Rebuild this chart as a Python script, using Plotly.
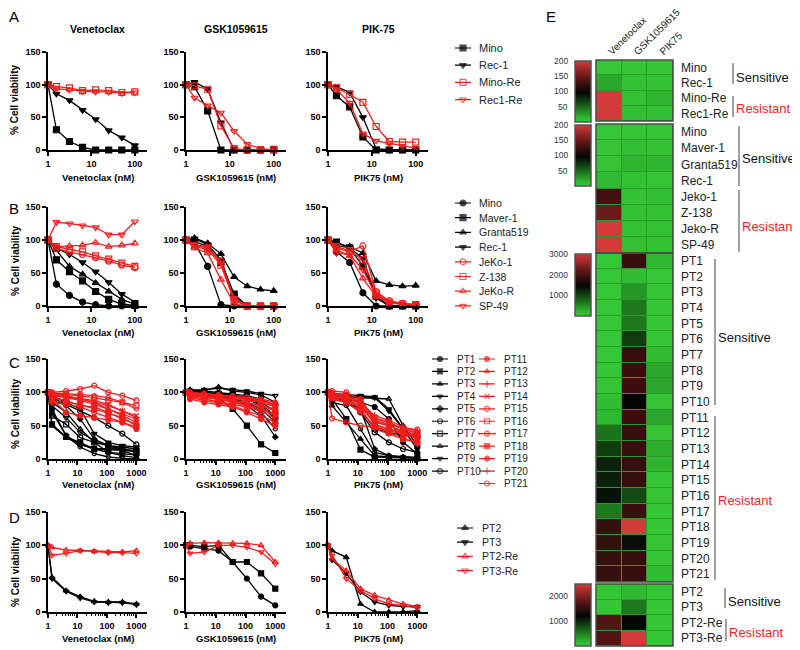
import plotly.graph_objects as go

W, H = 800, 650
OFF = 8  # page body margin in the browser
FONT = "Liberation Sans"
RED = "#f21d1d"
BLK = "#000000"

# ---------------- data ----------------
CONC_AB = [1, 1.5625, 3.125, 6.25, 12.5, 25, 50, 100]
CONC_CD = [1, 1.37, 4.12, 12.35, 37.04, 111.1, 333.3, 1000]
TICKS_AB = [1, 10, 100]
TICKS_CD = [1, 10, 100, 1000]
Y_TICKS = [0, 50, 100, 150]

DRUG_TITLES = ["Venetoclax", "GSK1059615", "PIK-75"]
X_TITLES = ["Venetoclax (nM)", "GSK1059615 (nM)", "PIK75 (nM)"]

A_NAMES = ["Mino", "Rec-1", "Mino-Re", "Rec1-Re"]
A_VEN = {"Mino": [100, 31, 13, 4, 0, 0, 0, 0],
         "Rec-1": [100, 86, 76, 61, 47, 30, 19, 7],
         "Mino-Re": [100, 97, 95, 91, 92, 91, 88, 89],
         "Rec1-Re": [100, 94, 92, 90, 89, 89, 87, 88]}
A_GSK = {"Mino": [100, 97, 60, 0, 0, 0, 0, 0],
         "Rec-1": [100, 104, 93, 42, 0, 0, 0, 0],
         "Mino-Re": [100, 98, 93, 37, 2, 0, 0, 1],
         "Rec1-Re": [100, 80, 68, 57, 29, 9, 2, 0]}
A_PIK = {"Mino": [100, 83, 66, 20, 0, 0, 0, 0],
         "Rec-1": [100, 97, 88, 50, 2, 0, 0, 0],
         "Mino-Re": [100, 95, 85, 73, 36, 13, 12, 12],
         "Rec1-Re": [100, 93, 72, 25, 14, 10, 6, 3]}

B_NAMES = ["Mino", "Maver-1", "Granta519", "Rec-1", "JeKo-1", "Z-138", "JeKo-R", "SP-49"]
B_VEN = {"Mino": [100, 33, 16, 6, 2, 0, 0, 0],
         "Maver-1": [100, 70, 52, 38, 22, 10, 3, 1],
         "Granta519": [100, 85, 60, 48, 35, 22, 10, 3],
         "Rec-1": [100, 88, 78, 66, 52, 36, 18, 6],
         "JeKo-1": [100, 87, 82, 78, 73, 68, 62, 58],
         "Z-138": [100, 90, 86, 82, 76, 71, 65, 60],
         "JeKo-R": [100, 90, 91, 92, 96, 90, 92, 95],
         "SP-49": [100, 127, 125, 122, 119, 108, 108, 128]}
B_GSK = {"Mino": [100, 96, 60, 2, 0, 0, 0, 0],
         "Maver-1": [100, 98, 90, 66, 18, 0, 0, 0],
         "Granta519": [100, 103, 95, 79, 44, 30, 25, 23],
         "Rec-1": [100, 102, 93, 70, 15, 0, 0, 0],
         "JeKo-1": [100, 92, 88, 68, 10, 0, 0, 0],
         "Z-138": [100, 90, 86, 62, 8, 0, 0, 0],
         "JeKo-R": [100, 88, 80, 40, 3, 0, 0, 0],
         "SP-49": [100, 93, 90, 65, 12, 0, 0, 0]}
B_PIK = {"Mino": [100, 82, 66, 20, 0, 0, 0, 0],
         "Maver-1": [100, 97, 88, 60, 15, 0, 0, 0],
         "Granta519": [100, 95, 90, 80, 38, 32, 30, 31],
         "Rec-1": [100, 92, 88, 72, 12, 0, 0, 0],
         "JeKo-1": [100, 88, 82, 91, 22, 8, 4, 2],
         "Z-138": [100, 90, 84, 70, 20, 6, 3, 2],
         "JeKo-R": [100, 85, 76, 42, 14, 5, 2, 1],
         "SP-49": [100, 80, 78, 55, 16, 6, 3, 2]}

C_NAMES = ["PT%d" % i for i in range(1, 22)]
C_VEN = {"PT1": [100, 75, 35, 22, 15, 10, 8, 6],
         "PT2": [100, 52, 33, 25, 15, 14, 13, 12],
         "PT3": [100, 50, 32, 22, 16, 15, 15, 12],
         "PT4": [100, 95, 85, 75, 38, 25, 20, 18],
         "PT5": [100, 90, 80, 60, 30, 20, 15, 10],
         "PT6": [100, 92, 82, 72, 62, 50, 38, 22],
         "PT7": [100, 65, 52, 32, 25, 20, 18, 15],
         "PT8": [100, 85, 70, 45, 25, 10, 5, 2],
         "PT9": [100, 80, 62, 40, 28, 20, 12, 5],
         "PT10": [100, 70, 35, 18, 8, 3, 1, 0],
         "PT11": [100, 98, 95, 90, 85, 75, 65, 55],
         "PT12": [100, 95, 92, 88, 82, 75, 68, 60],
         "PT13": [100, 92, 88, 80, 78, 70, 60, 52],
         "PT14": [100, 96, 93, 91, 88, 82, 72, 65],
         "PT15": [100, 100, 102, 105, 110, 100, 95, 88],
         "PT16": [100, 98, 97, 95, 92, 88, 85, 80],
         "PT17": [100, 85, 82, 78, 70, 62, 55, 48],
         "PT18": [100, 88, 85, 82, 75, 68, 62, 50],
         "PT19": [100, 90, 70, 65, 62, 58, 55, 45],
         "PT20": [100, 97, 95, 90, 85, 80, 72, 62],
         "PT21": [100, 99, 98, 97, 95, 92, 85, 75]}
C_GSK = {"PT1": [100, 102, 100, 98, 95, 90, 80, 60],
         "PT2": [100, 98, 95, 92, 75, 50, 22, 9],
         "PT3": [100, 100, 98, 95, 90, 85, 75, 55],
         "PT4": [100, 103, 102, 100, 98, 95, 90, 80],
         "PT5": [100, 98, 96, 95, 90, 80, 65, 33],
         "PT6": [100, 101, 100, 98, 96, 92, 85, 72],
         "PT7": [100, 99, 97, 96, 94, 90, 82, 65],
         "PT8": [100, 104, 103, 108, 102, 100, 96, 85],
         "PT9": [100, 102, 104, 106, 104, 102, 98, 95],
         "PT10": [100, 97, 95, 93, 90, 85, 70, 45],
         "PT11": [100, 95, 92, 90, 85, 80, 75, 65],
         "PT12": [100, 98, 95, 92, 88, 85, 80, 72],
         "PT13": [100, 96, 94, 90, 86, 80, 75, 68],
         "PT14": [100, 97, 95, 93, 90, 88, 85, 78],
         "PT15": [100, 100, 98, 96, 94, 92, 88, 82],
         "PT16": [100, 94, 90, 86, 82, 78, 72, 60],
         "PT17": [100, 92, 88, 84, 80, 72, 65, 55],
         "PT18": [100, 96, 93, 90, 87, 84, 80, 75],
         "PT19": [100, 90, 85, 82, 78, 70, 60, 50],
         "PT20": [100, 98, 97, 95, 93, 90, 86, 80],
         "PT21": [100, 99, 98, 96, 95, 93, 90, 85]}
C_PIK = {"PT1": [100, 92, 90, 85, 78, 60, 25, 8],
         "PT2": [100, 90, 60, 14, 3, 2, 1, 1],
         "PT3": [100, 80, 55, 30, 5, 3, 2, 2],
         "PT4": [100, 98, 97, 95, 93, 75, 45, 15],
         "PT5": [100, 95, 90, 75, 15, 5, 3, 2],
         "PT6": [100, 95, 85, 70, 40, 25, 15, 10],
         "PT7": [100, 90, 85, 75, 45, 40, 35, 35],
         "PT8": [100, 95, 93, 92, 92, 90, 50, 20],
         "PT9": [100, 93, 95, 93, 92, 72, 45, 30],
         "PT10": [100, 85, 80, 45, 10, 5, 3, 2],
         "PT11": [100, 95, 90, 80, 60, 55, 45, 40],
         "PT12": [100, 93, 88, 78, 55, 50, 40, 35],
         "PT13": [100, 96, 92, 85, 65, 58, 48, 42],
         "PT14": [100, 90, 85, 70, 50, 45, 40, 35],
         "PT15": [100, 61, 55, 50, 48, 42, 38, 30],
         "PT16": [100, 98, 95, 88, 62, 55, 45, 38],
         "PT17": [100, 102, 100, 90, 58, 52, 46, 44],
         "PT18": [100, 92, 85, 72, 48, 40, 30, 25],
         "PT19": [100, 97, 93, 82, 52, 45, 38, 33],
         "PT20": [100, 95, 90, 75, 45, 38, 30, 25],
         "PT21": [100, 98, 94, 86, 56, 50, 42, 36]}

D_NAMES = ["PT2", "PT3", "PT2-Re", "PT3-Re"]
D_VEN = {"PT2": [100, 52, 32, 23, 16, 15, 15, 12],
         "PT3": [98, 50, 31, 21, 15, 14, 14, 11],
         "PT2-Re": [100, 97, 93, 92, 91, 90, 90, 92],
         "PT3-Re": [100, 85, 88, 92, 91, 89, 89, 88]}
D_GSK = {"PT2": [100, 98, 95, 92, 75, 50, 23, 10],
         "PT3": [100, 100, 98, 100, 75, 75, 58, 35],
         "PT2-Re": [100, 103, 104, 104, 103, 103, 100, 75],
         "PT3-Re": [100, 88, 90, 100, 100, 97, 90, 72]}
D_PIK = {"PT2": [100, 92, 82, 12, 0, 0, 0, 2],
         "PT3": [100, 78, 58, 30, 15, 10, 8, 8],
         "PT2-Re": [100, 80, 62, 35, 25, 18, 12, 8],
         "PT3-Re": [100, 85, 50, 32, 20, 12, 10, 6]}

# heatmap data (IC50-like values)
HM_DRUGS = ["Venetoclax", "GSK1059615", "PIK75"]
HM1_ROWS = ["Mino", "Rec-1", "Mino-Re", "Rec1-Re"]
HM1_VEN = [2, 22, 210, 205]
HM1_GSK = [4, 6, 7, 8]
HM1_PIK = [3, 5, 16, 8]
HM2_ROWS = ["Mino", "Maver-1", "Granta519", "Rec-1", "Jeko-1", "Z-138", "Jeko-R", "SP-49"]
HM2_VEN = [2, 3, 4, 12, 130, 152, 200, 200]
HM2_GSK = [4, 8, 15, 6, 5, 6, 7, 7]
HM2_PIK = [3, 5, 16, 4, 8, 6, 6, 5]
HM3_ROWS = ["PT%d" % i for i in range(1, 22)]
HM3_VEN = [30, 30, 30, 30, 30, 30, 30, 40, 60, 150, 200, 680, 1050, 1250, 1250, 1370, 650, 1850, 1850, 1850, 1850]
HM3_GSK = [1850, 150, 450, 650, 650, 1050, 1850, 1900, 1900, 1450, 1900, 1850, 1850, 1850, 1850, 950, 1900, 3000, 1380, 1850, 1850]
HM3_PIK = [200, 30, 40, 40, 40, 40, 150, 330, 330, 60, 350, 60, 300, 250, 40, 60, 40, 40, 60, 40, 150]
HM4_ROWS = ["PT2", "PT3", "PT2-Re", "PT3-Re"]
HM4_VEN = [30, 30, 1750, 1750]
HM4_GSK = [150, 550, 1200, 2500]
HM4_PIK = [40, 40, 40, 40]
CB1_LABELS = [200, 150, 100, 50]
CB2_LABELS = [200, 150, 100, 50]
CB3_LABELS = [3000, 2000, 1000]
CB4_LABELS = [2000, 1000]

# ---------------- styles ----------------
A_STYLE = {"Mino": (BLK, "square"), "Rec-1": (BLK, "triangle-down"),
           "Mino-Re": (RED, "square-open"), "Rec1-Re": (RED, "triangle-down-open")}
B_STYLE = {"Mino": (BLK, "circle"), "Maver-1": (BLK, "square"), "Granta519": (BLK, "triangle-up"),
           "Rec-1": (BLK, "triangle-down"), "JeKo-1": (RED, "circle-open"), "Z-138": (RED, "square-open"),
           "JeKo-R": (RED, "triangle-up-open"), "SP-49": (RED, "triangle-down-open")}
C_SYMBOLS = ["circle", "square", "triangle-up", "triangle-down", "diamond", "circle-open", "square-open",
             "triangle-up-open", "triangle-down-open", "circle-open",
             "circle", "triangle-up", "cross-thin-open", "x-thin-open", "circle-open", "square-open",
             "circle-open-dot", "square", "circle", "cross-thin-open", "circle-open"]
C_STYLE = {n: ((BLK if i < 10 else RED), C_SYMBOLS[i]) for i, n in enumerate(C_NAMES)}
D_STYLE = {"PT2": (BLK, "triangle-up"), "PT3": (BLK, "triangle-down"),
           "PT2-Re": (RED, "triangle-up-open"), "PT3-Re": (RED, "triangle-down-open")}
D_STYLE_GSK = {"PT2": (BLK, "circle"), "PT3": (BLK, "square"),
               "PT2-Re": (RED, "triangle-up-open"), "PT3-Re": (RED, "triangle-down-open")}

COL_X = [(48, 147), (186, 286), (328, 428)]
ROW_Y = [(52, 150), (207, 306), (359, 459), (512, 612)]
X_TITLE_Y = [177, 332, 484, 638]
Y_TITLE_Y = [100, 261, 414, 572]
LETTERS = [("A", 14, 17), ("B", 14, 208), ("C", 14, 362), ("D", 14, 517), ("E", 551, 17)]

PANELS = [
    (0, 0, A_NAMES, A_VEN, A_STYLE, CONC_AB), (0, 1, A_NAMES, A_GSK, A_STYLE, CONC_AB), (0, 2, A_NAMES, A_PIK, A_STYLE, CONC_AB),
    (1, 0, B_NAMES, B_VEN, B_STYLE, CONC_AB), (1, 1, B_NAMES, B_GSK, B_STYLE, CONC_AB), (1, 2, B_NAMES, B_PIK, B_STYLE, CONC_AB),
    (2, 0, C_NAMES, C_VEN, C_STYLE, CONC_CD), (2, 1, C_NAMES, C_GSK, C_STYLE, CONC_CD), (2, 2, C_NAMES, C_PIK, C_STYLE, CONC_CD),
    (3, 0, D_NAMES, D_VEN, D_STYLE, CONC_CD), (3, 1, D_NAMES, D_GSK, D_STYLE_GSK, CONC_CD), (3, 2, D_NAMES, D_PIK, D_STYLE, CONC_CD),
]


def fx(px):
    return (px - OFF) / W


def fy(py):
    return 1 - (py - OFF) / H


def key(prefix, k):
    return prefix if k == 1 else "%s%d" % (prefix, k)


fig = go.Figure()
layout = dict(template="none", width=W, height=H,
              margin=dict(l=0, r=0, t=0, b=0, pad=0, autoexpand=False),
              paper_bgcolor="white", plot_bgcolor="rgba(0,0,0,0)", showlegend=False,
              font=dict(family=FONT, color="black"))
annotations = []
shapes = []

tickfont = dict(family=FONT, size=9, color="black", weight="bold")


def ann(text, x, y, size, color="black", weight="normal", xanchor="center", angle=0):
    annotations.append(dict(text=text, x=fx(x), y=fy(y), xref="paper", yref="paper", xanchor=xanchor,
                            yanchor="middle", showarrow=False, textangle=angle, borderpad=0,
                            font=dict(family=FONT, size=size, color=color, weight=weight)))


# ---------------- dose-response panels ----------------
k = 0
for (r, c, names, data, style, conc) in PANELS:
    k += 1
    x0, x1 = COL_X[c]
    yt, yb = ROW_Y[r]
    ticks = TICKS_AB if r < 2 else TICKS_CD
    xr = [0, 2.28] if r < 2 else [0, 3.36]
    xa = dict(type="log", domain=[fx(x0), fx(x1)], range=xr, anchor=key("y", k), automargin=False,
              showline=True, linecolor="black", linewidth=1.5, ticks="outside", ticklen=4,
              tickwidth=1.5, tickcolor="black", tickvals=ticks, ticktext=[str(t) for t in ticks],
              tickfont=tickfont, showgrid=False, zeroline=False)
    if r >= 2:
        minor_vals = [m * d for d in [1, 10, 100] for m in range(2, 10)]
        xa["minor"] = dict(tickvals=minor_vals, ticks="outside", ticklen=2, tickwidth=1, tickcolor="black",
                           showgrid=False)
    ya = dict(domain=[fy(yb), fy(yt)], range=[0, 150], anchor=key("x", k), showline=True, automargin=False,
              linecolor="black", linewidth=1.5, ticks="outside", ticklen=4, tickwidth=1.5,
              tickcolor="black", tickvals=Y_TICKS, ticktext=[str(t) for t in Y_TICKS],
              tickfont=tickfont, showgrid=False, zeroline=False)
    layout[key("xaxis", k)] = xa
    layout[key("yaxis", k)] = ya
    msize = 6 if r < 2 else 5
    for n in names:
        col, sym = style[n]
        sz = msize - (1 if sym in ("diamond",) or (n in ("PT10", "PT11", "PT21")) else 0)
        fig.add_trace(go.Scatter(
            x=conc, y=data[n], mode="lines+markers", name=n,
            line=dict(color=col, width=1.3),
            marker=dict(symbol=sym, size=sz, color=col, line=dict(color=col, width=1.2)),
            xaxis=key("x", k), yaxis=key("y", k), cliponaxis=False, showlegend=False,
            hoverinfo="skip"))
    if r == 0:
        ann(DRUG_TITLES[c], (x0 + x1) / 2, 29, 10.5, weight="bold")
    ann(X_TITLES[c], (x0 + x1) / 2, X_TITLE_Y[r], 9.5, weight="bold")
    if c == 0:
        ann("% Cell viability", 15, Y_TITLE_Y[r], 10, weight="bold", angle=-90)

for (t, lx, ly) in LETTERS:
    ann(t, lx, ly, 15)

# ---------------- legends ----------------
LEGENDS = [
    (A_NAMES, A_STYLE, 463, 477, 48, 17.2, 6, 11),
    (B_NAMES, B_STYLE, 463, 477, 203, 14.7, 6, 10.5),
    (C_NAMES[:10], C_STYLE, 440, 455, 359, 12.45, 5, 10),
    (C_NAMES[10:], C_STYLE, 487, 502, 359, 12.45, 5, 10),
    (D_NAMES, D_STYLE, 465, 480, 528, 14.2, 6, 10.5),
]
k = 16
for (names, style, cx, tx, y0, sp, msz, fsz) in LEGENDS:
    k += 1
    n = len(names)
    top = y0 - sp / 2
    bot = y0 + (n - 1) * sp + sp / 2
    layout[key("xaxis", k)] = dict(domain=[fx(cx - 8), fx(cx + 8)], range=[0, 2], visible=False,
                                   anchor=key("y", k), automargin=False)
    layout[key("yaxis", k)] = dict(domain=[fy(bot), fy(top)], range=[n - 0.5, -0.5], visible=False,
                                   anchor=key("x", k), automargin=False)
    for i, nm in enumerate(names):
        col, sym = style[nm]
        fig.add_trace(go.Scatter(x=[0, 1, 2], y=[i, i, i], mode="lines+markers",
                                 line=dict(color=col, width=1.2),
                                 marker=dict(symbol=sym, size=[0, msz, 0], color=col,
                                             line=dict(color=col, width=1.2)),
                                 xaxis=key("x", k), yaxis=key("y", k), cliponaxis=False,
                                 showlegend=False, hoverinfo="skip"))
        annotations.append(dict(text=nm, x=2, y=i, xref=key("x", k), yref=key("y", k), xanchor="left",
                                yanchor="middle", xshift=tx - (cx + 8), showarrow=False,
                                font=dict(family=FONT, size=fsz, color="#222")))

# ---------------- heatmap (panel E) ----------------
CSCALE = [[0.0, "#36c936"], [0.08, "#2fb52f"], [0.3, "#145214"], [0.48, "#050505"],
          [0.72, "#5a1515"], [1.0, "#d43a3a"]]
HM_BLOCKS = [
    (HM1_ROWS, HM1_VEN, HM1_GSK, HM1_PIK, 0, 200, 60, 121, 61, 61, CB1_LABELS),
    (HM2_ROWS, HM2_VEN, HM2_GSK, HM2_PIK, 0, 200, 124, 253, 125, 61, CB2_LABELS),
    (HM3_ROWS, HM3_VEN, HM3_GSK, HM3_PIK, 0, 3000, 253, 582, 254, 62, CB3_LABELS),
    (HM4_ROWS, HM4_VEN, HM4_GSK, HM4_PIK, 0, 2500, 584, 646, 584, 62, CB4_LABELS),
]
HX0, HX1 = 596, 673
k = 12
for bi, (rows, ven, gsk, pik, zmin, zmax, ytop, ybot, cbtop, cblen, cblabels) in enumerate(HM_BLOCKS):
    k += 1
    z = [[ven[i], gsk[i], pik[i]] for i in range(len(rows))]
    fig.add_trace(go.Heatmap(
        z=z, x=HM_DRUGS, y=rows, zmin=zmin, zmax=zmax, colorscale=CSCALE, xgap=1, ygap=1,
        xaxis=key("x", k), yaxis=key("y", k), hoverinfo="skip",
        colorbar=dict(x=fx(575), xanchor="left", y=fy(cbtop), yanchor="top", len=cblen, lenmode="pixels",
                      thickness=16, thicknessmode="pixels", xpad=0, ypad=0, outlinewidth=1.5,
                      outlinecolor="#555", showticklabels=False, ticks="")))
    xa = dict(domain=[fx(HX0), fx(HX1)], type="category", categoryarray=HM_DRUGS, range=[-0.5, 2.5],
              anchor=key("y", k), showgrid=False, zeroline=False, showline=False, ticks="", automargin=False)
    if bi == 0:
        xa.update(side="top", tickangle=-45, showticklabels=True, ticklabelstandoff=0,
                  tickfont=dict(family=FONT, size=10, color="#222"))
    else:
        xa.update(showticklabels=False)
    layout[key("xaxis", k)] = xa
    layout[key("yaxis", k)] = dict(domain=[fy(ybot), fy(ytop)], type="category", categoryarray=rows,
                                   range=[len(rows) - 0.5, -0.5], anchor=key("x", k), side="right",
                                   showgrid=False, zeroline=False, showline=False, ticks="", automargin=False,
                                   ticklabelstandoff=7, tickfont=dict(family=FONT, size=12, color="#222"))
    shapes.append(dict(type="rect", xref="paper", yref="paper", x0=fx(HX0), x1=fx(HX1), y0=fy(ybot), y1=fy(ytop),
                       fillcolor="#2a9a2a", line=dict(width=0), layer="below"))
    shapes.append(dict(type="rect", xref="paper", yref="paper", x0=fx(HX0), x1=fx(HX1), y0=fy(ybot), y1=fy(ytop),
                       fillcolor="rgba(0,0,0,0)", line=dict(color="#4a4a4a", width=1.5), layer="above"))
    for v in cblabels:
        py = cbtop + (zmax - v) / (zmax - zmin) * cblen
        ann(str(v), 569, py, 8.5, color="#333", xanchor="right")

# group brackets
BRACKETS = [
    ("Sensitive", "#111", 733, 63, 84, 77),
    ("Resistant", "#f21d1d", 733, 96, 117, 109),
    ("Sensitive", "#111", 739, 126, 186, 158),
    ("Resistant", "#f21d1d", 739, 190, 252, 226),
    ("Sensitive", "#111", 715, 259, 405, 337),
    ("Resistant", "#f21d1d", 715, 416, 580, 501),
    ("Sensitive", "#111", 725, 588, 608, 601),
    ("Resistant", "#f21d1d", 726, 619, 641, 632),
]
for (txt, col, lx, ly0, ly1, ty) in BRACKETS:
    shapes.append(dict(type="line", xref="paper", yref="paper", x0=fx(lx), x1=fx(lx), y0=fy(ly0), y1=fy(ly1),
                       line=dict(color="#444", width=1)))
    ann(txt, lx + 2, ty, 13, color=col, xanchor="left")

layout["annotations"] = annotations
layout["shapes"] = shapes
fig.update_layout(**layout)
fig.write_html("out.html")
